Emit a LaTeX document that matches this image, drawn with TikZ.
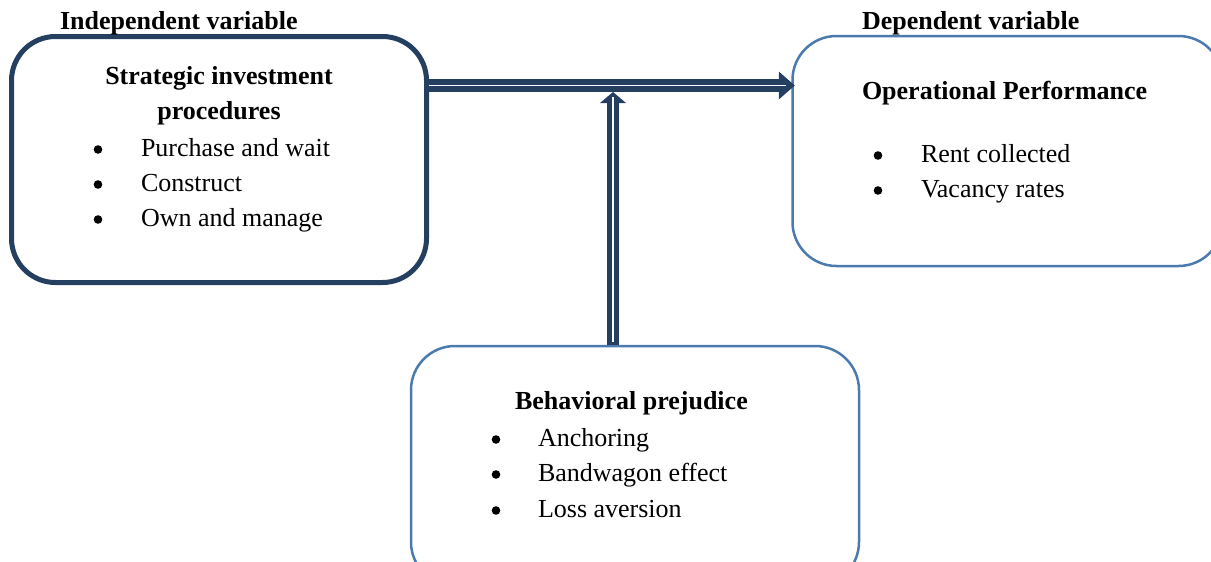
\documentclass[tikz,border=0pt]{standalone}
\usepackage{fontspec}
\setmainfont{Liberation Serif}
\definecolor{navy}{HTML}{243F60}
\definecolor{steel}{HTML}{4A7AAE}
\tikzset{
  box/.style={draw, rounded corners=44pt, inner sep=0pt, fill=none},
  txt/.style={font=\fontsize{26}{30}\selectfont, inner sep=0pt, outer sep=0pt, text=black},
  hd/.style={txt, font=\fontsize{26}{30}\selectfont\bfseries},
  bul/.style={circle, fill=black, inner sep=0pt, minimum size=8.6pt},
  item/.style={txt, anchor=base west},
  shaft/.style={navy, line width=13pt},
  shaftin/.style={white, line width=1.5pt}
}
\begin{document}
\begin{tikzpicture}[x=1pt,y=-1pt]
\clip (0,0) rectangle (1211,562);
% boxes
\node[box, draw=navy, line width=5pt, minimum width=415pt, minimum height=246pt] (L) at (219,159.5) {};
\node[box, draw=steel, line width=2.5pt, minimum width=430pt, minimum height=230pt] (R) at (1007.5,151) {};
\node[box, draw=steel, line width=2.5pt, minimum width=448pt, minimum height=240pt] (B) at (635,466) {};
% headings
\node[hd, anchor=base west] (iv) at (60,29) {Independent variable};
\node[hd, anchor=base west] (dv) at (862,29) {Dependent variable};
% left box text
\node[hd, anchor=base] (l1) at (219,84) {Strategic investment};
\node[hd, anchor=base] (l2) at (219,119) {procedures};
\node[bul] (lb1) at (98,149.5) {};
\node[item] (li1) at (141,156) {Purchase and wait};
\node[bul] (lb2) at (98,184.5) {};
\node[item] (li2) at (141,191) {Construct};
\node[bul] (lb3) at (98,219.5) {};
\node[item] (li3) at (141,226) {Own and manage};
% right box text
\node[hd, anchor=base west] (rt) at (862,99) {Operational Performance};
\node[bul] (rb1) at (878,155.5) {};
\node[item] (ri1) at (921,162) {Rent collected};
\node[bul] (rb2) at (878,190.5) {};
\node[item] (ri2) at (921,197) {Vacancy rates};
% bottom box text
\node[hd, anchor=base west] (bt) at (515,409) {Behavioral prejudice};
\node[bul] (bb1) at (496,439.5) {};
\node[item] (bi1) at (538,446) {Anchoring};
\node[bul] (bb2) at (496,474.5) {};
\node[item] (bi2) at (538,481) {Bandwagon effect};
\node[bul] (bb3) at (496,510.5) {};
\node[item] (bi3) at (538,517) {Loss aversion};
% horizontal arrow
\coordinate (hy) at (0,85.5);
\coordinate (vx) at (613,0);
\coordinate (hs) at (L.east |- hy);
\path (R.west |- hy) ++(3.5,0) coordinate (ht);
\path (ht) ++(-14,0) coordinate (hh);
\draw[shaft] (hs) -- (hh);
\fill[navy] (ht) -- ++(-16,14) -- ++(0,-28) -- cycle;
\draw[shaftin] (hs) -- ([xshift=-9pt]ht);
% vertical arrow
\coordinate (vb) at (B.north -| vx);
\path (hs -| vx) ++(0,6.5) coordinate (vt);
\path (vt) ++(0,10) coordinate (vh);
\draw[navy, line width=12pt] (vb) -- (vh);
\fill[navy] (vt) -- ++(-13,11) -- ++(26,0) -- cycle;
\draw[shaftin, shorten <=3pt] (vb) -- ([yshift=-5pt]vt);
\end{tikzpicture}
\end{document}
